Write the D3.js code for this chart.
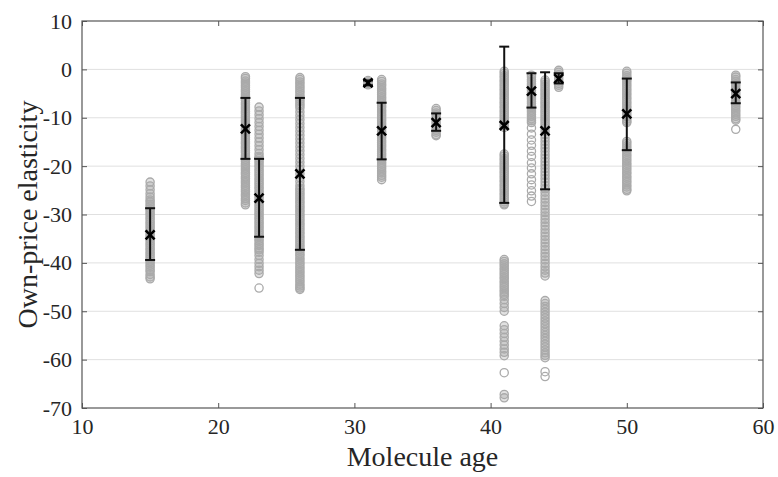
<!DOCTYPE html>
<html>
<head>
<meta charset="utf-8">
<script src="https://cdn.jsdelivr.net/npm/d3@7"></script>
<style>
  body { margin: 0; background: #fff; }
  svg { display: block; }
  text { font-family: "Liberation Serif", "Times New Roman", serif; fill: #262626; }
</style>
</head>
<body>
<svg width="778" height="477"></svg>
<script>
// Molecule ages (x positions of each group)
const ages = [15, 22, 23, 26, 31, 32, 36, 41, 43, 44, 45, 50, 58];

// mean elasticity and error bar ends per age
const means  = [-34.2, -12.3, -26.6, -21.6, -2.8, -12.7, -11.0, -11.6, -4.5, -12.7, -1.9, -9.2, -5.0];
const lowers = [-39.4, -18.5, -34.6, -37.3, -3.3, -18.6, -12.7, -27.6, -7.9, -24.8, -2.9, -16.7, -7.0];
const uppers = [-28.7, -5.9, -18.5, -5.9, -2.3, -6.9, -9.1, 4.7, -0.8, -0.6, -0.8, -1.9, -2.7];

// individual estimates (grey circles), one list per age
const pts15 = [-23.3, -24.1, -24.9, -25.7, -26.4, -27.0, -27.4, -27.9, -28.3, -28.8, -29.2, -29.7, -30.1, -30.6,
  -31.0, -31.5, -31.9, -32.4, -32.8, -33.3, -33.7, -34.2, -34.6, -35.1, -35.5, -36.0, -36.4, -36.9, -37.3, -37.8,
  -38.2, -38.7, -39.1, -39.6, -40.0, -40.5, -40.9, -41.4, -41.8, -42.4, -42.9, -43.3];
const pts22 = [-1.5, -1.9, -2.4, -2.8, -3.3, -3.7, -4.2, -4.6, -5.1, -5.5, -6.0, -6.4, -6.9, -7.3, -7.8, -8.2,
  -8.7, -9.1, -9.6, -10.0, -10.5, -10.9, -11.4, -11.8, -12.3, -12.7, -13.2, -13.6, -14.1, -14.5, -15.0, -15.4,
  -15.9, -16.3, -16.8, -17.2, -17.7, -18.1, -18.6, -19.0, -19.5, -19.9, -20.4, -20.8, -21.3, -21.7, -22.2, -22.6,
  -23.1, -23.5, -24.0, -24.4, -24.9, -25.3, -25.8, -26.2, -26.7, -27.1, -27.6, -28.0];
const pts23 = [-7.8, -8.6, -9.4, -10.2, -11.0, -11.8, -12.6, -13.4, -14.2, -15.0, -15.8, -16.6, -17.4, -18.0,
  -18.4, -18.9, -19.3, -19.8, -20.2, -20.7, -21.1, -21.6, -22.0, -22.5, -22.9, -23.4, -23.8, -24.3, -24.7, -25.2,
  -25.6, -26.1, -26.5, -27.0, -27.4, -27.9, -28.3, -28.8, -29.2, -29.7, -30.1, -30.6, -31.0, -31.5, -31.9, -32.4,
  -32.8, -33.3, -33.7, -34.2, -34.6, -35.1, -35.5, -36.0, -36.4, -36.9, -37.3, -37.8, -38.5, -39.3, -40.1, -40.8,
  -41.5, -42.2, -45.2];
const pts26 = [-1.7, -2.1, -2.6, -3.0, -3.5, -3.9, -4.4, -4.8, -5.3, -5.7, -6.2, -6.6, -7.1, -7.5, -8.0, -8.8,
  -9.6, -10.4, -11.2, -12.0, -12.8, -13.6, -14.4, -15.2, -16.0, -16.8, -17.6, -18.4, -19.2, -20.0, -20.8, -21.6,
  -22.4, -23.2, -24.0, -24.6, -25.0, -25.5, -25.9, -26.4, -26.8, -27.3, -27.7, -28.2, -28.6, -29.1, -29.5, -30.0,
  -30.4, -30.9, -31.3, -31.8, -32.2, -32.7, -33.1, -33.6, -34.0, -34.5, -34.9, -35.4, -35.8, -36.3, -36.7, -37.2,
  -37.6, -38.1, -38.5, -39.0, -39.4, -39.9, -40.3, -40.8, -41.2, -41.7, -42.1, -42.6, -43.0, -43.5, -43.9, -44.4,
  -44.8, -45.2, -45.5];
const pts31 = [-2.3, -2.6, -2.9, -3.2];
const pts32 = [-2.1, -2.5, -3.0, -3.4, -3.9, -4.3, -4.8, -5.2, -5.7, -6.1, -6.6, -7.0, -7.5, -7.9, -8.4, -8.8,
  -9.3, -9.7, -10.2, -10.6, -11.1, -11.5, -12.0, -12.4, -12.9, -13.3, -13.8, -14.2, -14.7, -15.1, -15.6, -16.0,
  -16.5, -16.9, -17.4, -17.8, -18.3, -18.7, -19.2, -19.6, -20.1, -20.5, -21.0, -21.4, -21.9, -22.3, -22.8];
const pts36 = [-8.1, -8.5, -9.0, -9.4, -9.9, -10.3, -10.8, -11.2, -11.7, -12.1, -12.6, -13.0, -13.5, -13.7];
const pts41 = [-0.4, -0.8, -1.3, -1.7, -2.2, -2.6, -3.1, -3.5, -4.0, -4.4, -4.9, -5.3, -5.8, -6.2, -6.7, -7.1,
  -7.6, -8.0, -8.5, -8.9, -9.4, -9.8, -10.3, -10.7, -11.2, -11.6, -12.0,
  -17.5, -17.9, -18.4, -18.8, -19.3, -19.7, -20.2, -20.6, -21.1, -21.5, -22.0, -22.4, -22.9, -23.3, -23.8, -24.2,
  -24.7, -25.1, -25.6, -26.0, -26.5, -26.9, -27.4, -27.8, -28.0,
  -39.3, -39.7, -40.2, -40.6, -41.1, -41.5, -42.0, -42.4, -42.9, -43.3, -43.8, -44.2, -44.7, -45.1, -45.6, -46.0,
  -46.5, -46.9, -47.6, -48.4, -49.2, -50.0,
  -53.0, -53.8, -54.6, -55.4, -56.2, -57.0, -57.8, -58.5, -59.2, -62.7, -67.2, -67.9];
const pts43 = [-1.2, -1.6, -2.1, -2.5, -3.0, -3.4, -3.9, -4.3, -4.8, -5.2, -5.7, -6.1, -6.6, -7.0, -7.5, -7.9,
  -8.4, -8.8, -9.3, -9.7, -10.2, -10.6, -11.0,
  -12.1, -13.4, -14.6, -15.7, -16.9, -18.0, -19.3, -20.4, -21.6, -22.8, -23.9, -25.1, -26.2, -27.3];
const pts44 = [-2.2, -2.6, -3.1, -3.5, -4.0, -4.4, -4.9, -5.3, -5.8, -6.2, -6.7, -7.1, -7.6, -8.0, -8.5, -8.9,
  -9.4, -9.8, -10.3, -10.7, -11.2, -11.6, -12.1,
  -12.8, -13.5, -14.2, -14.9, -15.6, -16.3, -17.0, -17.7, -18.4, -19.1, -19.8, -20.5, -21.2, -21.9, -22.6, -23.3,
  -24.0, -24.7, -25.4, -26.1, -26.8, -27.5, -28.2, -28.9, -29.6, -30.3, -31.0, -31.7, -32.4, -33.1, -33.8, -34.5,
  -35.2, -35.9, -36.6, -37.3, -38.0, -38.7, -39.4, -40.1, -40.8, -41.5, -42.1, -42.7,
  -47.8, -48.4, -49.0, -49.6, -50.2, -50.8, -51.4, -52.0, -52.6, -53.2, -53.8, -54.4, -55.0, -55.6, -56.2, -56.8,
  -57.4, -58.0, -58.6, -59.1, -59.6, -62.5, -63.5];
const pts45 = [-0.2, -0.6, -1.1, -1.5, -2.0, -2.4, -2.9, -3.3, -3.7];
const pts50 = [-0.4, -0.8, -1.3, -1.7, -2.2, -2.6, -3.1, -3.5, -4.0, -4.4, -4.9, -5.3, -5.8, -6.2, -6.7, -7.1,
  -7.6, -8.0, -8.5, -8.9, -9.4, -9.8, -10.3, -10.7, -11.0,
  -14.9, -15.3, -15.8, -16.2, -16.7, -17.1, -17.6, -18.0, -18.5, -18.9, -19.4, -19.8, -20.3, -20.7, -21.2, -21.6,
  -22.1, -22.5, -23.0, -23.4, -23.9, -24.3, -24.8, -25.1];
const pts58 = [-1.2, -1.6, -2.1, -2.5, -3.0, -3.4, -3.9, -4.3, -4.8, -5.2, -5.7, -6.1, -6.6, -7.0, -7.5, -7.9,
  -8.4, -8.8, -9.3, -9.7, -10.2, -10.5, -12.4];

const pointLists = [pts15, pts22, pts23, pts26, pts31, pts32, pts36, pts41, pts43, pts44, pts45, pts50, pts58];

const xTicks = [10, 20, 30, 40, 50, 60];
const yTicks = [-70, -60, -50, -40, -30, -20, -10, 0, 10];

const width = 778, height = 477;
const margin = { top: 21, right: 15, bottom: 69, left: 82 };

const svg = d3.select("svg");

const x = d3.scaleLinear().domain([10, 60]).range([margin.left, width - margin.right]);
const y = d3.scaleLinear().domain([-70, 10]).range([height - margin.bottom, margin.top]);

// horizontal grid
svg.append("g")
  .selectAll("line")
  .data(yTicks.filter(d => d > -70 && d < 10))
  .enter()
  .append("line")
  .attr("x1", x(10))
  .attr("x2", x(60))
  .attr("y1", d => y(d))
  .attr("y2", d => y(d))
  .attr("stroke", "#e0e0e0")
  .attr("stroke-width", 1);

// grey circles; tightly packed ones get a faint fill so that overlapping
// markers blend into a solid band like the original
const points = [];
ages.forEach((age, i) => {
  const list = pointLists[i];
  list.forEach(v => {
    const packed = list.some(w => w !== v && Math.abs(w - v) < 0.85);
    points.push({ age, v, packed });
  });
});

svg.append("g")
  .selectAll("circle")
  .data(points)
  .enter()
  .append("circle")
  .attr("cx", d => x(d.age))
  .attr("cy", d => y(d.v))
  .attr("r", 4.1)
  .attr("fill", d => d.packed ? "#aaa" : "none")
  .attr("fill-opacity", 0.35)
  .attr("stroke", "#aaa")
  .attr("stroke-width", 1.3);

// error bars
const bars = ages.map((age, i) => ({ age, mean: means[i], lo: lowers[i], hi: uppers[i] }));
const capW = 5;

const barG = svg.append("g")
  .attr("stroke", "#111")
  .attr("stroke-width", 2);

barG.selectAll(".stem")
  .data(bars)
  .enter()
  .append("line")
  .attr("x1", d => x(d.age))
  .attr("x2", d => x(d.age))
  .attr("y1", d => y(d.lo))
  .attr("y2", d => y(d.hi));

barG.selectAll(".capHi")
  .data(bars)
  .enter()
  .append("line")
  .attr("x1", d => x(d.age) - capW)
  .attr("x2", d => x(d.age) + capW)
  .attr("y1", d => y(d.hi))
  .attr("y2", d => y(d.hi));

barG.selectAll(".capLo")
  .data(bars)
  .enter()
  .append("line")
  .attr("x1", d => x(d.age) - capW)
  .attr("x2", d => x(d.age) + capW)
  .attr("y1", d => y(d.lo))
  .attr("y2", d => y(d.lo));

// mean markers (x)
const m = 4.5;
const meanG = svg.append("g")
  .attr("stroke", "#000")
  .attr("stroke-width", 2.6);

meanG.selectAll("path")
  .data(bars)
  .enter()
  .append("path")
  .attr("d", d => {
    const cx = x(d.age), cy = y(d.mean);
    return `M${cx - m},${cy - m}L${cx + m},${cy + m}M${cx - m},${cy + m}L${cx + m},${cy - m}`;
  });

// axes with inward ticks
const axisColor = "#555";

function styleAxis(g) {
  g.select(".domain").remove();
  g.attr("font-family", null).attr("font-size", null);
  g.selectAll(".tick line").attr("stroke", axisColor);
  g.selectAll(".tick text")
    .attr("fill", "#262626")
    .style("font-size", "22px")
    .style("font-family", '"Liberation Serif", "Times New Roman", serif');
}

svg.append("g")
  .attr("transform", `translate(0,${height - margin.bottom})`)
  .call(d3.axisBottom(x).tickValues(xTicks).tickSize(-5).tickPadding(10))
  .call(styleAxis);

svg.append("g")
  .attr("transform", `translate(0,${margin.top})`)
  .call(d3.axisTop(x).tickValues(xTicks).tickSize(-5).tickFormat(""))
  .call(styleAxis);

svg.append("g")
  .attr("transform", `translate(${margin.left},0)`)
  .call(d3.axisLeft(y).tickValues(yTicks).tickSize(-5).tickPadding(10).tickFormat(d => d < 0 ? "-" + Math.abs(d) : d))
  .call(styleAxis);

svg.append("g")
  .attr("transform", `translate(${width - margin.right},0)`)
  .call(d3.axisRight(y).tickValues(yTicks).tickSize(-5).tickFormat(""))
  .call(styleAxis);

// box
svg.append("rect")
  .attr("x", x(10))
  .attr("y", y(10))
  .attr("width", x(60) - x(10))
  .attr("height", y(-70) - y(10))
  .attr("fill", "none")
  .attr("stroke", axisColor)
  .attr("stroke-width", 1.2);

// axis labels
svg.append("text")
  .attr("x", (x(10) + x(60)) / 2)
  .attr("y", 466)
  .attr("text-anchor", "middle")
  .style("font-size", "28px")
  .text("Molecule age");

svg.append("text")
  .attr("transform", `translate(37,${(y(10) + y(-70)) / 2}) rotate(-90)`)
  .attr("text-anchor", "middle")
  .style("font-size", "28px")
  .text("Own-price elasticity");
</script>
</body>
</html>
